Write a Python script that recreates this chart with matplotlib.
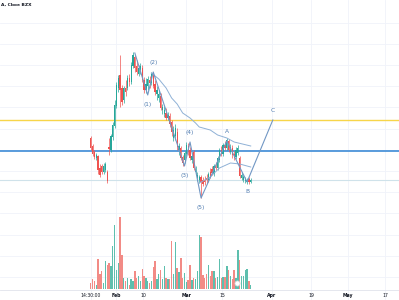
import numpy as np
import matplotlib.pyplot as plt

# daily candles (price units)
opens = [5.60, 5.20, 4.90, 4.60, 4.70, 4.10, 4.20, 3.90, 4.00, 3.90,
         5.15, 5.00, 5.65, 6.20, 7.20, 8.10, 8.75, 8.10, 7.50, 8.10,
         8.10, 8.60, 8.40, 9.20, 9.65, 9.20, 8.80, 9.00, 9.10, 8.50,
         8.00, 8.20, 8.50, 8.35, 8.75, 8.30, 7.80, 7.60, 7.70, 7.00,
         6.80, 6.85, 6.60, 6.70, 6.40, 5.60, 5.70, 5.90, 5.00, 5.10,
         4.65, 4.50, 4.80, 5.20, 5.00, 4.50, 4.90, 3.90, 3.60, 3.50,
         3.65, 3.50, 3.50, 3.60, 3.50, 3.90, 4.05, 3.80, 4.20, 4.10,
         4.50, 5.00, 4.80, 5.25, 5.10, 5.45, 4.90, 5.10, 4.80, 4.65,
         4.85, 4.60, 3.60, 3.50, 3.45, 3.40, 3.55, 3.40]
highs = [5.70, 5.30, 5.00, 4.85, 4.75, 4.30, 4.30, 4.35, 4.40, 4.00,
         5.60, 5.80, 6.40, 7.50, 8.40, 8.75, 9.75, 8.25, 8.20, 8.50,
         8.75, 8.80, 9.40, 9.90, 9.75, 9.50, 9.25, 9.35, 9.25, 8.65,
         8.60, 8.70, 8.70, 8.90, 8.90, 8.50, 8.20, 8.00, 7.85, 7.30,
         7.20, 7.10, 6.90, 6.85, 6.50, 6.20, 6.30, 6.10, 5.35, 5.20,
         4.75, 4.95, 5.40, 5.35, 5.15, 4.90, 5.00, 4.20, 3.90, 3.75,
         3.75, 3.65, 3.70, 3.80, 3.90, 4.10, 4.20, 4.30, 4.40, 4.70,
         5.10, 5.20, 5.35, 5.45, 5.60, 5.55, 5.30, 5.25, 4.95, 5.15,
         5.25, 4.70, 3.90, 3.75, 3.65, 3.60, 3.65, 3.60]
lows = [5.00, 4.70, 4.55, 4.50, 3.80, 3.65, 3.80, 3.80, 3.90, 3.35,
        4.75, 4.90, 5.50, 6.10, 7.10, 7.90, 7.15, 7.25, 7.35, 7.70,
        8.00, 8.20, 8.30, 9.10, 8.90, 8.75, 8.70, 8.80, 8.40, 7.85,
        7.85, 8.00, 8.10, 8.25, 8.10, 7.75, 7.50, 7.40, 7.00, 6.80,
        6.65, 6.50, 6.50, 6.15, 5.70, 5.45, 5.50, 5.00, 4.75, 4.50,
        4.20, 4.35, 4.70, 4.75, 4.50, 4.35, 4.00, 3.75, 3.45, 3.35,
        2.60, 3.20, 3.25, 3.35, 3.40, 3.60, 3.75, 3.70, 4.00, 4.00,
        4.40, 4.70, 4.70, 5.00, 5.00, 4.90, 4.80, 4.60, 4.50, 4.55,
        4.75, 3.60, 3.50, 3.40, 3.35, 3.30, 3.30, 3.35]
closes = [5.10, 4.80, 4.65, 4.75, 4.00, 3.75, 3.90, 4.20, 4.30, 3.45,
          5.05, 5.70, 6.25, 7.25, 8.25, 8.60, 8.00, 7.40, 8.10, 7.90,
          8.60, 8.40, 9.25, 9.75, 9.10, 8.90, 9.10, 9.20, 8.50, 8.00,
          8.30, 8.55, 8.35, 8.80, 8.20, 7.90, 8.00, 7.80, 7.10, 7.15,
          7.00, 6.60, 6.75, 6.30, 5.90, 6.00, 6.10, 5.15, 5.20, 4.60,
          4.35, 4.85, 5.25, 4.90, 4.60, 4.70, 4.10, 4.05, 3.75, 3.65,
          3.40, 3.30, 3.40, 3.50, 3.80, 3.70, 3.85, 4.20, 4.10, 4.60,
          5.00, 4.80, 5.25, 5.10, 5.50, 5.00, 5.15, 4.75, 4.60, 5.00,
          5.10, 3.70, 3.75, 3.65, 3.55, 3.50, 3.40, 3.50]
volumes = [0.30, 0.50, 0.38, 0.22, 1.50, 0.77, 0.88, 0.30, 1.38, 1.22,
           1.30, 1.13, 2.13, 3.22, 0.93, 1.30, 3.60, 1.72, 0.55, 0.38,
           0.55, 0.22, 0.50, 0.38, 0.88, 0.55, 0.63, 0.38, 1.00, 0.67,
           0.53, 0.38, 0.30, 0.38, 1.10, 1.38, 0.50, 0.77, 0.93, 0.52,
           1.17, 0.53, 0.50, 0.50, 2.40, 0.77, 2.35, 1.05, 0.83, 1.55,
           0.55, 0.80, 0.33, 0.47, 1.20, 0.47, 0.55, 0.50, 0.88, 2.72,
           2.60, 0.72, 0.55, 0.77, 1.18, 0.67, 0.88, 0.88, 0.53, 0.60,
           1.50, 0.53, 0.58, 0.60, 1.17, 0.93, 0.63, 0.50, 0.93, 0.55,
           1.97, 1.47, 0.63, 0.67, 0.93, 1.00, 0.38, 0.22]

# moving averages (bar index, value)
ma_slow_x = [33, 37, 41, 44, 47, 50, 54, 57, 59, 65, 69, 74, 78, 87]
ma_slow_y = [8.85, 8.55, 8.10, 7.60, 7.30, 6.85, 6.60, 6.35, 6.15, 6.00, 5.75, 5.60, 5.40, 5.20]
ma_fast_x = [59, 65, 70, 76, 81, 87]
ma_fast_y = [3.35, 3.65, 4.10, 4.35, 4.30, 4.15]

# elliott wave count
wave_x = [24, 31, 34, 51, 54, 60, 74, 85, 99]
wave_y = [9.85, 7.75, 8.90, 4.20, 5.40, 2.60, 5.45, 3.40, 6.50]
wave_labels = ["", "(1)", "(2)", "(3)", "(4)", "(5)", "A", "B", "C"]

level_yellow = 6.50
level_blue = 4.95

tick_pos = [0, 14, 28.5, 52, 71.5, 98.5, 120, 140, 160]
tick_labels = ["14:30:00", "Feb", "10", "Mar", "15", "Apr", "19", "May", "17"]

UP = '#26a69a'
DOWN = '#ef5350'

fig = plt.figure(figsize=(3.99, 3.0), dpi=100)
ax = fig.add_axes([0, 0, 1, 1])
ax.set_xlim(-49.3, 167.6)
ax.set_ylim(-2.5, 12.5)
ax.axis('off')

# grid
for gy in np.arange(-1.35, 12.0, 1.06):
    ax.axhline(gy, color='#f0f3fa', lw=0.6, zorder=0)
for gx in tick_pos:
    ax.axvline(gx, color='#f0f3fa', lw=0.6, zorder=0)
ax.axhline(-2.0, color='#e0e3eb', lw=0.6, zorder=0)

idx = np.arange(len(closes))
o = np.array(opens)
c = np.array(closes)
up = c >= o
cols = np.where(up, UP, DOWN)

ax.vlines(idx, lows, highs, colors=cols, lw=0.5, zorder=3)
ax.bar(idx, np.abs(c - o) + 0.02, bottom=np.minimum(o, c), width=0.7,
       color=cols, zorder=4)

# horizontal levels
ax.axhline(level_yellow, color='#f7d54a', lw=1.0, zorder=2)
ax.axhline(level_blue, color='#3d8bd6', lw=1.2, zorder=2)
ax.axhline(closes[-1], color='#cfe2ea', lw=0.8, zorder=1)

# moving averages
ax.plot(ma_slow_x, ma_slow_y, color='#8fb1d6', lw=0.7, zorder=5)
ax.plot(ma_fast_x, ma_fast_y, color='#8fb1d6', lw=0.7, zorder=5)

# wave lines + labels
ax.plot(wave_x, wave_y, color='#7197c4', lw=0.8, zorder=6)
for i, lab in enumerate(wave_labels):
    if not lab:
        continue
    is_high = wave_y[i] > wave_y[i - 1]
    dy = 7 if is_high else -7
    ax.annotate(lab, (wave_x[i], wave_y[i]), xytext=(0, dy),
                textcoords='offset points', ha='center', va='center',
                fontsize=4.2, color='#4f7bb0', zorder=7)

# x labels
trans = ax.get_xaxis_transform()
for p, lab in zip(tick_pos, tick_labels):
    bold = lab in ("Feb", "Mar", "Apr", "May")
    ax.text(p, 0.016, lab, transform=trans, ha='center', va='center',
            fontsize=3.3, color='#131722',
            fontweight='bold' if bold else 'normal')

ax.text(0.002, 0.983, "A, Cboe BZX", transform=ax.transAxes, ha='left',
        va='center', fontsize=3.2, fontweight='bold', color='#131722')

# volume pane overlay
axv = fig.add_axes([0, 0, 1, 1])
axv.set_xlim(-49.3, 167.6)
axv.set_ylim(-0.55, 14.45)
axv.patch.set_alpha(0)
axv.axis('off')
vcols = np.where(up, '#f28b86', '#5dbfae')
vcols = np.where(up, '#5dbfae', '#f28b86')
axv.bar(idx, volumes, width=0.75, color=vcols)
axv.scatter([79.5], [0.3], s=14, facecolor='white', edgecolor='#d0d0d0',
            linewidths=0.5, zorder=5)

fig.savefig('out.png', dpi=100)
